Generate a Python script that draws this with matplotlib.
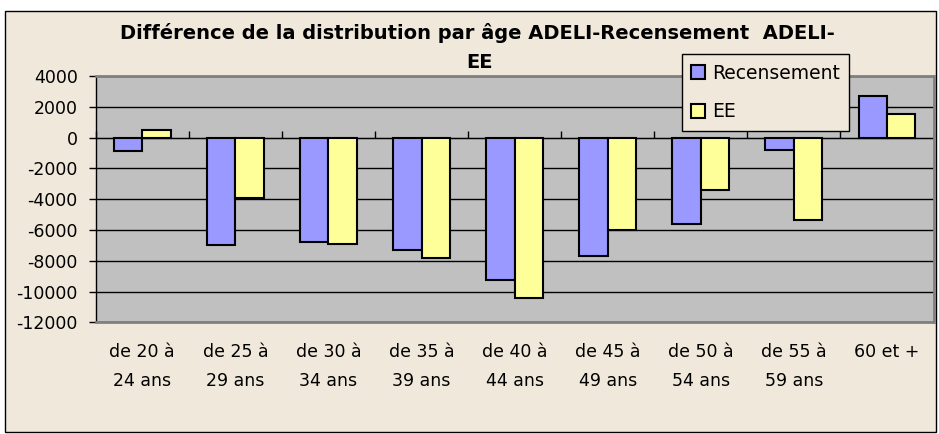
import matplotlib
matplotlib.use("Agg")
import matplotlib.pyplot as plt
from matplotlib.patches import Rectangle
import numpy as np

categories = ["de 20 à\n24 ans", "de 25 à\n29 ans", "de 30 à\n34 ans", "de 35 à\n39 ans",
              "de 40 à\n44 ans", "de 45 à\n49 ans", "de 50 à\n54 ans", "de 55 à\n59 ans",
              "60 et +"]
recensement = [-900, -7000, -6800, -7300, -9250, -7700, -5600, -800, 2700]
ee = [500, -3900, -6900, -7800, -10400, -6000, -3400, -5350, 1500]
yticks = [4000, 2000, 0, -2000, -4000, -6000, -8000, -10000, -12000]
title_line1 = "Différence de la distribution par âge ADELI-Recensement  ADELI-"
title_line2 = "EE"

plt.rcParams['font.family'] = ['DejaVu Sans']
W, H = 939, 434
fig = plt.figure(figsize=(W / 100, H / 100), dpi=100, facecolor='white')
cream = '#F0E9DB'
fig.patches.append(Rectangle((5 / W, 1 - 432 / H), 931 / W, 421 / H, transform=fig.transFigure,
                             facecolor=cream, edgecolor='black', linewidth=1, zorder=-10))

left, right, top, bottom = 95.7, 933.5, 76, 322.3
ax = fig.add_axes([left / W, 1 - bottom / H, (right - left) / W, (bottom - top) / H])
ax.set_facecolor('#C0C0C0')

x = np.arange(len(categories))
w = 0.305
ax.bar(x - w / 2, recensement, w, color='#9999FF', edgecolor='black', linewidth=1.5,
       label='Recensement', zorder=3)
ax.bar(x + w / 2, ee, w, color='#FFFF99', edgecolor='black', linewidth=1.5,
       label='EE', zorder=3)

ax.set_xlim(-0.5, len(categories) - 0.5)
ax.set_ylim(min(yticks), max(yticks))
ax.set_yticks(yticks)
ax.set_yticklabels([str(v) for v in yticks], fontsize=12.5)
ax.yaxis.grid(True, color='black', linewidth=1)
ax.set_axisbelow(True)
ax.tick_params(axis='y', length=5, width=1, pad=8, color='black')

ax.set_xticks(x)
ax.set_xticklabels(categories, fontsize=12.5, linespacing=1.75)
ax.tick_params(axis='x', length=0, pad=15)

for s in ['top', 'right', 'bottom']:
    ax.spines[s].set_color('#808080')
    ax.spines[s].set_linewidth(2)
ax.spines['left'].set_color('black')
ax.spines['left'].set_linewidth(1)

# category boundary ticks on the zero line
zero_pos = (0 - min(yticks)) / (max(yticks) - min(yticks))
sec = ax.secondary_xaxis(zero_pos)
sec.set_xticks(np.arange(len(categories) + 1) - 0.5)
sec.set_xticklabels([])
sec.tick_params(length=5, width=1, direction='out', color='black')
sec.spines['bottom'].set_color('black')
sec.spines['bottom'].set_linewidth(1)

fig.text(477 / W, 1 - 33 / H, title_line1, ha='center', va='center', fontsize=14,
         fontweight='bold')
fig.text(480 / W, 1 - 63 / H, title_line2, ha='center', va='center', fontsize=14,
         fontweight='bold')

leg = fig.legend(loc='upper left', bbox_to_anchor=(681.7 / W, 1 - 54.3 / H),
                 bbox_transform=fig.transFigure, borderaxespad=0, fontsize=13.5,
                 handlelength=0.75, handleheight=0.75, handletextpad=0.35,
                 labelspacing=1.05, borderpad=0.5, fancybox=False, framealpha=1,
                 facecolor=cream, edgecolor='black')
leg.get_frame().set_linewidth(1)

fig.savefig('out.png', dpi=100, facecolor='white')
